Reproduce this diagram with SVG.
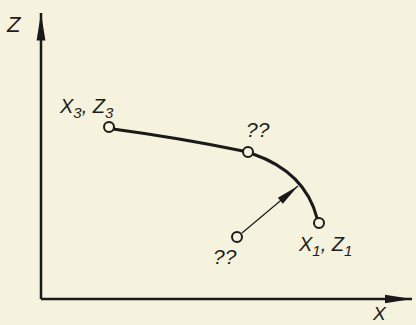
<svg xmlns="http://www.w3.org/2000/svg" width="416" height="325" viewBox="0 0 416 325">
<style>
.lbl{font-family:"Liberation Sans",Arial,sans-serif;font-style:italic;fill:#1e1e1e}
.pt{fill:#f6f4e0;stroke:#1a1a1a;stroke-width:2}
.ax{stroke:#1a1a1a;stroke-width:2.5;fill:none}
</style>
<defs>
<marker id="ah" viewBox="0 0 28 10" refX="28" refY="5" markerWidth="11" markerHeight="4" markerUnits="strokeWidth" orient="auto"><path d="M0,0.5 L28,5 L0,9.5 Z" fill="#1a1a1a"/></marker>
<marker id="ah2" viewBox="0 0 24 10" refX="24" refY="5" markerWidth="20" markerHeight="8" markerUnits="strokeWidth" orient="auto"><path d="M0,1 L24,5 L0,9 Z" fill="#1a1a1a"/></marker>
</defs>
<rect width="416" height="325" fill="#f5f3de"/>
<g id="connectors">
<line class="ax" x1="41" y1="299" x2="41" y2="13" marker-end="url(#ah)"/>
<line class="ax" x1="41" y1="299" x2="412" y2="299" marker-end="url(#ah)"/>
<path d="M113,129 Q180,138 243,151" fill="none" stroke="#1a1a1a" stroke-width="3"/>
<path d="M253,154 Q305,172 317,218" fill="none" stroke="#1a1a1a" stroke-width="3"/>
<line x1="242" y1="233" x2="298" y2="186" stroke="#1a1a1a" stroke-width="1.2" marker-end="url(#ah2)"/>
</g>
<g id="p3"><circle class="pt" cx="109" cy="127" r="5"/></g>
<g id="p2"><circle class="pt" cx="248" cy="152" r="5"/></g>
<g id="p1"><circle class="pt" cx="319" cy="223" r="5"/></g>
<g id="p0"><circle class="pt" cx="237" cy="237" r="5"/></g>
<g id="labels">
<text class="lbl" x="7" y="32" font-size="22">Z</text>
<text class="lbl" x="373" y="320" font-size="19">X</text>
<text class="lbl" x="60" y="113" font-size="20">X<tspan font-size="15" dy="5">3</tspan><tspan dy="-5">, Z</tspan><tspan font-size="15" dy="5">3</tspan></text>
<text class="lbl" x="299" y="251" font-size="20">X<tspan font-size="15" dy="5">1</tspan><tspan dy="-5">, Z</tspan><tspan font-size="15" dy="5">1</tspan></text>
<text class="lbl" x="246" y="137" font-size="21">??</text>
<text class="lbl" x="213" y="264" font-size="21">??</text>
</g>
</svg>
